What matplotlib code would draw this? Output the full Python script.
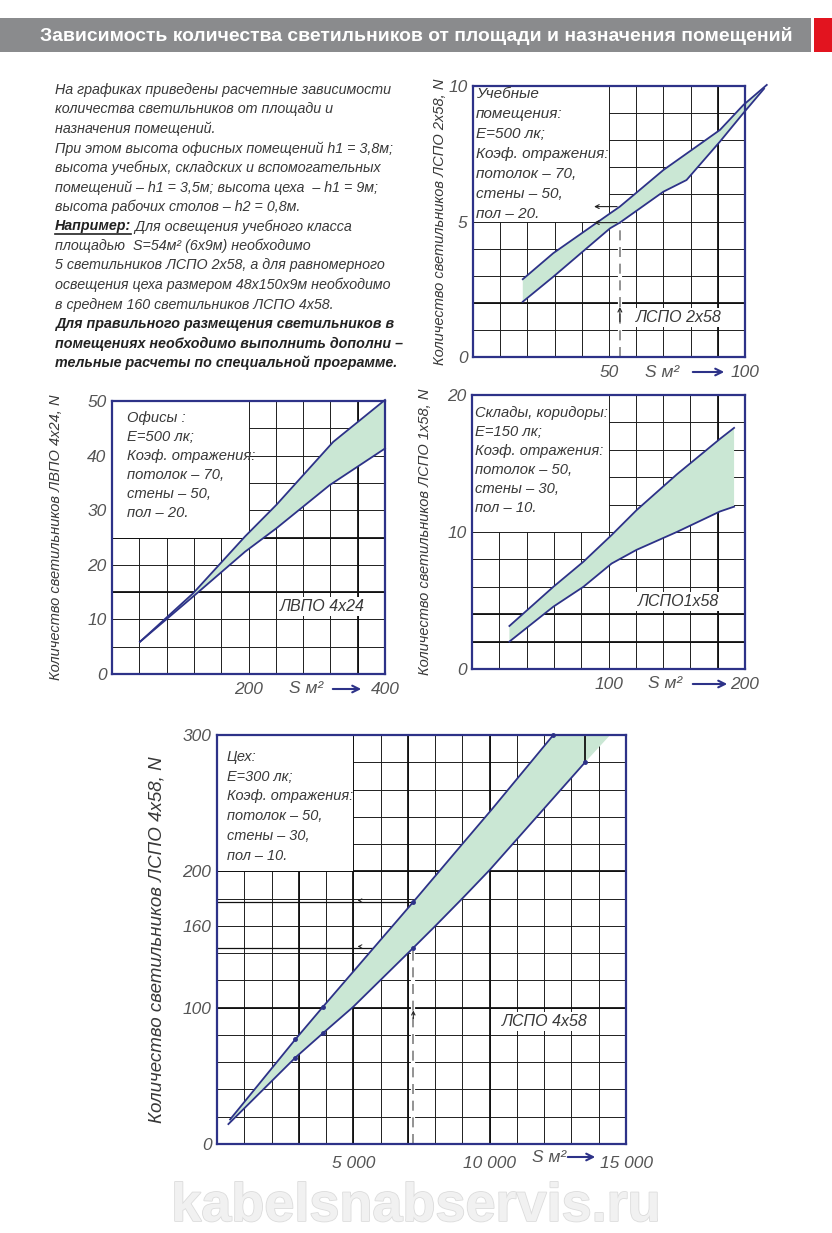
import numpy as np
import matplotlib
matplotlib.use("Agg")
from matplotlib import pyplot as plt
from matplotlib.patches import Rectangle, FancyArrowPatch
from matplotlib.lines import Line2D
import matplotlib.patheffects as pe

W, H = 832, 1233
NAVY = "#2d3288"
GREEN = "#cae7d4"
INK = "#383838"
GREY = "#555555"
GRID = "#1e1e1e"
NARROW = ["Liberation Sans Narrow", "Liberation Sans", "DejaVu Sans"]

TITLE = "Зависимость количества светильников от площади и назначения помещений"

intro_lines = [
    "На графиках приведены расчетные зависимости",
    "количества светильников от площади и",
    "назначения помещений.",
    "При этом высота офисных помещений h1 = 3,8м;",
    "высота учебных, складских и вспомогательных",
    "помещений – h1 = 3,5м; высота цеха  – h1 = 9м;",
    "высота рабочих столов – h2 = 0,8м.",
]
example_head = "Например:"
example_lines = [
    " Для освещения учебного класса",
    "площадью  S=54м² (6х9м) необходимо",
    "5 светильников ЛСПО 2х58, а для равномерного",
    "освещения цеха размером 48х150х9м необходимо",
    "в среднем 160 светильников ЛСПО 4х58.",
]
note_lines = [
    "Для правильного размещения светильников в",
    "помещениях необходимо выполнить дополни –",
    "тельные расчеты по специальной программе.",
]

# --- учебные помещения, ЛСПО 2x58
class_x_up = [18.3, 29.5, 50.4, 54, 70, 90.8, 99.4, 108]
class_up = [2.87, 3.83, 5.3, 5.55, 6.9, 8.38, 9.3, 10.04]
class_x_lo = [18.3, 29.5, 50.4, 54, 70, 78.5, 90.8, 99.4, 107]
class_lo = [2.04, 2.96, 4.75, 4.96, 6.1, 6.53, 7.95, 9.0, 9.9]
class_info = ["Учебные", "помещения:", "E=500 лк;", "Коэф. отражения:",
              "потолок – 70,", "стены – 50,", "пол – 20."]
class_area = 54
class_n = [5.55, 4.96]

# --- офисы, ЛВПО 4x24
office_x_up = [41, 119, 195, 241, 324, 400]
office_up = [5.9, 14.8, 25.2, 31, 42.5, 50.2]
office_x_lo = [41, 119, 195, 241, 319, 400]
office_lo = [5.9, 14.2, 22.4, 26.7, 34.6, 41.3]
office_info = ["Офисы :", "E=500 лк;", "Коэф. отражения:",
               "потолок – 70,", "стены – 50,", "пол – 20."]

# --- склады, коридоры, ЛСПО 1x58
store_x_up = [27.4, 59.6, 81.6, 102.3, 120.6, 150, 181.7, 192]
store_up = [3.14, 6.0, 7.83, 9.78, 11.6, 14.2, 16.8, 17.6]
store_x_lo = [27.4, 59.6, 81.6, 102.3, 120.6, 150, 181.7, 192]
store_lo = [2.0, 4.55, 6.0, 7.7, 8.7, 10.0, 11.5, 11.85]
store_info = ["Склады, коридоры:", "E=150 лк;", "Коэф. отражения:",
              "потолок – 50,", "стены – 30,", "пол – 10."]

# --- цех, ЛСПО 4x58 (последняя точка нижней границы - только заливка)
shop_x_up = [480, 2875, 3880, 7200, 9017, 10060, 12334]
shop_up = [18, 76.8, 100.5, 177.6, 220.5, 245, 300]
shop_x_lo = [418, 2875, 3880, 4990, 7200, 8000, 9017, 10000, 13500, 14420]
shop_lo = [14.6, 63.4, 81.2, 100.5, 143.9, 159.8, 180.5, 201, 280, 300]
shop_info = ["Цех:", "E=300 лк;", "Коэф. отражения:",
             "потолок – 50,", "стены – 30,", "пол – 10."]
shop_area = 7200
shop_n = [177.6, 143.9]

fig = plt.figure(figsize=(W / 100, H / 100), dpi=100)
fig.patch.set_facecolor("white")


def put(x, y, s, **kw):
    kw.setdefault("family", NARROW)
    return fig.text(x / W, 1 - y / H, s, **kw)


def fit(t, target):
    r = fig.canvas.get_renderer()
    w = t.get_window_extent(r).width
    t.set_fontsize(t.get_fontsize() * target / w)
    return t.get_fontsize()


def arrow(x0, x1, y):
    fig.add_artist(FancyArrowPatch(
        (x0 / W, 1 - y / H), (x1 / W, 1 - y / H), transform=fig.transFigure,
        arrowstyle="->", mutation_scale=12, lw=1.5, color=NAVY))


def axes_px(left, top, right, bottom):
    return fig.add_axes([left / W, 1 - bottom / H, (right - left) / W, (bottom - top) / H])


def panel(ax, xmax, ymax, nx, ny, box, xu, yu, xl, yl, yticks, xticks, xlabels,
          heavy_h, heavy_v, ylabel, ylab_x, tag, tag_xy, nfill=None, ylab_size=10.5):
    ax.set_xlim(0, xmax)
    ax.set_ylim(0, ymax)
    ax.set_xticks(np.linspace(0, xmax, nx + 1), minor=True)
    ax.set_yticks(np.linspace(0, ymax, ny + 1), minor=True)
    ax.set_xticks(xticks, xlabels)
    ax.set_yticks(yticks, [str(v) for v in yticks])
    ax.grid(True, which="both", color=GRID, lw=0.7)
    ax.set_axisbelow(True)
    ax.tick_params(which="both", length=0, labelsize=12.5, labelcolor=GREY)
    ax.tick_params(axis="x", pad=6)
    ax.tick_params(axis="y", pad=4)
    for lab in ax.get_xticklabels() + ax.get_yticklabels():
        lab.set_fontstyle("italic")
        lab.set_family(NARROW)
    for s in ax.spines.values():
        s.set_color(NAVY)
        s.set_linewidth(1.6)
    for v in heavy_h:
        ax.axhline(v, color="#111111", lw=1.3, zorder=0.8)
    for v in heavy_v:
        ax.axvline(v, color="#111111", lw=1.3, zorder=0.8)
    ax.add_patch(Rectangle((0, box[1]), box[0], ymax - box[1], facecolor="white",
                           edgecolor="none", zorder=1))
    n = len(xl) if nfill is None else nfill
    ax.fill(np.r_[xu, xl[::-1]], np.r_[yu, yl[::-1]], color=GREEN, lw=0,
            zorder=2, clip_on=False)
    ax.plot(xu, yu, color=NAVY, lw=1.3, zorder=3, clip_on=False)
    ax.plot(xl[:n], yl[:n], color=NAVY, lw=1.3, zorder=3, clip_on=False)
    ax.set_ylabel(ylabel, fontsize=ylab_size, fontstyle="italic", color=INK, family=NARROW)
    ax.yaxis.set_label_coords(ylab_x, 0.5)
    ax.text(tag_xy[0], tag_xy[1], tag, fontsize=11.5, fontstyle="italic", color=INK,
            family=NARROW, ha="center", va="center", zorder=4,
            bbox=dict(facecolor="white", edgecolor="none", pad=1.5))


def info_block(lines, x, y0, step, width):
    # ширину блока задаёт строка "Коэф. отражения:"
    probe = put(x, y0, lines[-4], fontsize=11, fontstyle="italic")
    fs = fit(probe, width)
    probe.remove()
    for i, s in enumerate(lines):
        put(x, y0 + i * step, s, fontsize=fs, fontstyle="italic", color=INK, va="center")


def dashed_drop(ax, x, y):
    ax.plot([x, x], [0, y], color="white", lw=3, zorder=1.5)
    ax.plot([x, x], [0, y], color="#808080", lw=1.2, ls=(0, (6, 4)), zorder=1.6)


# ---------- заголовок
fig.add_artist(Rectangle((0, 1 - 52 / H), 811 / W, 34 / H, transform=fig.transFigure,
                         facecolor="#8a8b8d", edgecolor="none"))
fig.add_artist(Rectangle((814 / W, 1 - 52 / H), 18 / W, 34 / H, transform=fig.transFigure,
                         facecolor="#e2141f", edgecolor="none"))
t = put(416, 36, TITLE, fontsize=16, weight="bold", color="white", ha="center", va="center")
fit(t, 752)

# ---------- вводный текст
first = put(55, 90, intro_lines[0], fontsize=12, fontstyle="italic", color=INK, va="center")
fs = fit(first, 335)
step = 19.5
for i, s in enumerate(intro_lines[1:], start=1):
    put(55, 90 + i * step, s, fontsize=fs, fontstyle="italic", color=INK, va="center")
yh = 90 + 7 * step
head = put(55, yh, example_head, fontsize=fs, fontstyle="italic", weight="bold",
           color="#222222", va="center")
bb = head.get_window_extent(fig.canvas.get_renderer())
fig.add_artist(Line2D([bb.x0 / W, bb.x1 / W], [(bb.y0 - 1) / H] * 2, transform=fig.transFigure,
                      color="#222222", lw=1.2))
put(bb.x1, yh, example_lines[0], fontsize=fs, fontstyle="italic", color=INK, va="center")
for i, s in enumerate(example_lines[1:], start=8):
    put(55, 90 + i * step, s, fontsize=fs, fontstyle="italic", color=INK, va="center")
for i, s in enumerate(note_lines, start=12):
    put(55, 90 + i * step, s, fontsize=fs, fontstyle="italic", weight="bold",
        color="#222222", va="center")

# ---------- учебные помещения
ax1 = axes_px(473, 86, 745, 357)
panel(ax1, 100, 10, 10, 10, (50, 5), class_x_up, class_up, class_x_lo, class_lo,
      [0, 5, 10], [50, 100], ["50", "100"], [2], [90],
      "Количество светильников ЛСПО 2x58, N", -0.095, "ЛСПО 2x58", (75.5, 1.46))
dashed_drop(ax1, class_area, class_n[0])
for v in class_n:
    ax1.annotate("", xy=(43.5, v), xytext=(class_area, v), zorder=4,
                 arrowprops=dict(arrowstyle="->", lw=0.8, color="#222222", mutation_scale=7))
ax1.annotate("", xy=(class_area, 1.95), xytext=(class_area, 1.2), zorder=4,
             arrowprops=dict(arrowstyle="->", lw=0.8, color="#222222", mutation_scale=7))
info_block(class_info, 476, 94, 20, 132)
put(662, 372, "S м²", fontsize=12.5, fontstyle="italic", color=GREY, ha="center", va="center")
arrow(690, 727, 372)

# ---------- офисы
ax2 = axes_px(112, 401, 385, 674)
panel(ax2, 400, 50, 10, 10, (200, 25), office_x_up, office_up, office_x_lo, office_lo,
      [0, 10, 20, 30, 40, 50], [200, 400], ["200", "400"], [15, 25], [360],
      "Количество светильников ЛВПО 4x24, N", -0.18, "ЛВПО 4x24", (308, 12.3))
info_block(office_info, 127, 418, 19, 128)
put(306, 689, "S м²", fontsize=12.5, fontstyle="italic", color=GREY, ha="center", va="center")
arrow(330, 364, 689)

# ---------- склады
ax3 = axes_px(472, 395, 745, 669)
panel(ax3, 200, 20, 10, 10, (100, 10), store_x_up, store_up, store_x_lo, store_lo,
      [0, 10, 20], [100, 200], ["100", "200"], [2, 4], [180],
      "Количество светильников ЛСПО 1x58, N", -0.145, "ЛСПО1x58", (151, 4.9))
info_block(store_info, 475, 413, 19, 128)
put(665, 684, "S м²", fontsize=12.5, fontstyle="italic", color=GREY, ha="center", va="center")
arrow(690, 730, 684)

# ---------- цех
ax4 = axes_px(217, 735, 626, 1144)
panel(ax4, 15000, 300, 15, 15, (5000, 200), shop_x_up, shop_up, shop_x_lo, shop_lo,
      [0, 100, 160, 200, 300], [5000, 10000, 15000], ["5 000", "10 000", "15 000"],
      [100, 200], [3000, 5000, 7000, 10000],
      "Количество светильников ЛСПО 4x58, N", -0.125, "ЛСПО 4x58", (12027, 90),
      nfill=len(shop_x_lo) - 1, ylab_size=13.5)
ax4.tick_params(axis="x", pad=9)
ax4.plot(shop_x_up[1:4] + shop_x_up[-1:], shop_up[1:4] + shop_up[-1:], "o", ms=2.5,
         color=NAVY, zorder=4, clip_on=False)
ax4.plot([shop_x_lo[i] for i in (1, 2, 4, 8)], [shop_lo[i] for i in (1, 2, 4, 8)], "o",
         ms=2.5, color=NAVY, zorder=4, clip_on=False)
ax4.plot([shop_x_lo[8]] * 2, [shop_lo[8], 300], color="#111111", lw=1.3, zorder=2.5)
dashed_drop(ax4, shop_area, shop_n[0])
for v in shop_n:
    ax4.plot([0, shop_area], [v, v], color="#111111", lw=0.9, zorder=1.7)
    ax4.annotate("", xy=(5050, v + 1), xytext=(5350, v + 1), zorder=4,
                 arrowprops=dict(arrowstyle="->", lw=0.7, color="#222222", mutation_scale=6))
ax4.annotate("", xy=(shop_area, 100), xytext=(shop_area, 90), zorder=4,
             arrowprops=dict(arrowstyle="->", lw=0.8, color="#222222", mutation_scale=6))
info_block(shop_info, 227, 757, 19.7, 126)
put(549, 1157, "S м²", fontsize=12.5, fontstyle="italic", color=GREY, ha="center", va="center")
arrow(565, 598, 1157)

# ---------- водяной знак
wm = put(416, 1207, "kabelsnabservis.ru", fontsize=34, weight="bold", color="#f1f1f1",
         family=["Liberation Sans", "DejaVu Sans"], ha="center", va="center",
         path_effects=[pe.withStroke(linewidth=1.2, foreground="#dcdcdc")])
fit(wm, 490)

fig.savefig("out.png", dpi=100)
